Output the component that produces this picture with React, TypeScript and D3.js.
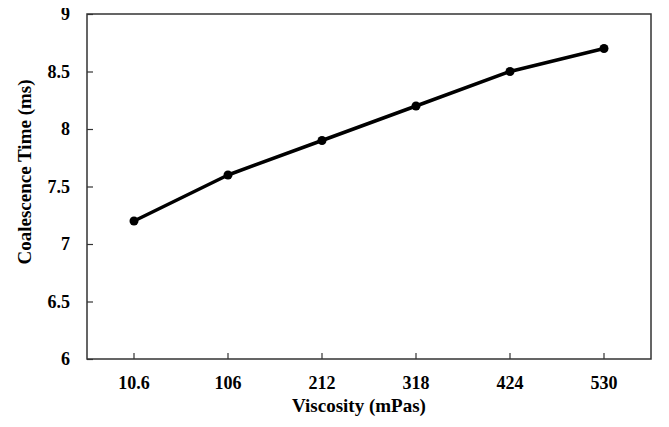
import React, { useRef, useEffect } from 'react';
import * as d3 from 'd3';

const viscosity = ['10.6', '106', '212', '318', '424', '530'];
const coalescenceTime = [7.2, 7.6, 7.9, 8.2, 8.5, 8.7];
const yTicks = [6, 6.5, 7, 7.5, 8, 8.5, 9];

const width = 669;
const height = 427;
const margin = { top: 14, right: 18, bottom: 68, left: 87 };

const App = () => {
  const svgRef = useRef<SVGSVGElement>(null);

  useEffect(() => {
    const svg = d3.select(svgRef.current);
    svg.selectAll('*').remove();

    const innerWidth = width - margin.left - margin.right;
    const innerHeight = height - margin.top - margin.bottom;
    const font = '"Liberation Serif", "Times New Roman", serif';

    // page background with thin grey edges
    svg.append('rect').attr('width', width).attr('height', height).attr('fill', '#fff');
    svg.append('rect').attr('x', 0).attr('width', 3).attr('height', height).attr('fill', '#ececec');
    svg.append('rect').attr('x', 664).attr('width', 5).attr('height', height).attr('fill', '#ececec');

    const x = d3.scaleBand().domain(viscosity).range([0, innerWidth]);
    const y = d3.scaleLinear().domain([6, 9]).range([innerHeight, 0]);

    const g = svg.append('g').attr('transform', `translate(${margin.left},${margin.top})`);

    // frame
    g.append('rect')
      .attr('width', innerWidth)
      .attr('height', innerHeight)
      .attr('fill', 'none')
      .attr('stroke', '#333')
      .attr('stroke-width', 1.5);

    // x axis
    const xAxis = g.append('g')
      .attr('transform', `translate(0,${innerHeight})`)
      .call(d3.axisBottom(x).tickSizeInner(-6).tickSizeOuter(0).tickPadding(17));
    xAxis.select('.domain').remove();
    xAxis.selectAll('line').attr('stroke', '#333').attr('stroke-width', 1.2);
    xAxis.selectAll('text')
      .attr('fill', '#000')
      .style('font-family', font)
      .style('font-size', '18px')
      .style('font-weight', 'bold');

    // y axis
    const yAxis = g.append('g')
      .call(d3.axisLeft(y).tickValues(yTicks).tickFormat(d3.format('')).tickSizeInner(-6).tickSizeOuter(0).tickPadding(17));
    yAxis.select('.domain').remove();
    yAxis.selectAll('line').attr('stroke', '#333').attr('stroke-width', 1.2);
    yAxis.selectAll('text')
      .attr('fill', '#000')
      .style('font-family', font)
      .style('font-size', '18px')
      .style('font-weight', 'bold');

    // axis titles
    svg.append('text')
      .attr('x', 359)
      .attr('y', 412)
      .attr('text-anchor', 'middle')
      .style('font-family', font)
      .style('font-size', '19px')
      .style('font-weight', 'bold')
      .text('Viscosity (mPas)');

    svg.append('text')
      .attr('transform', 'translate(31,172) rotate(-90)')
      .attr('text-anchor', 'middle')
      .style('font-family', font)
      .style('font-size', '19px')
      .style('font-weight', 'bold')
      .text('Coalescence Time (ms)');

    const cx = (d: string) => (x(d) ?? 0) + x.bandwidth() / 2;
    const line = d3.line<number>()
      .x((_, i) => cx(viscosity[i]))
      .y(d => y(d));

    g.append('path')
      .datum(coalescenceTime)
      .attr('fill', 'none')
      .attr('stroke', '#000')
      .attr('stroke-width', 3.5)
      .attr('stroke-linejoin', 'round')
      .attr('d', line);

    g.selectAll('circle')
      .data(coalescenceTime)
      .enter()
      .append('circle')
      .attr('cx', (_, i) => cx(viscosity[i]))
      .attr('cy', d => y(d))
      .attr('r', 4.5)
      .attr('fill', '#000');
  }, []);

  return (
    <div style={{ margin: -8 }}>
      <svg ref={svgRef} width={width} height={height} style={{ display: 'block' }}></svg>
    </div>
  );
};

export default App;
